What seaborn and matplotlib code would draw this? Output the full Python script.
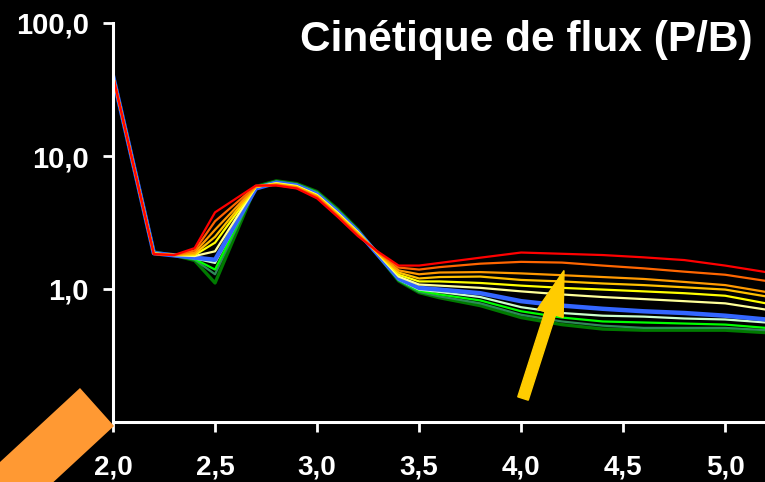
import matplotlib
matplotlib.use("Agg")
import matplotlib.pyplot as plt
from matplotlib.patches import Polygon, FancyArrow
from matplotlib.transforms import IdentityTransform
from matplotlib.ticker import FixedLocator, NullLocator
import seaborn as sns

# Time points (x) shared by every curve
x_values = [2.0, 2.2, 2.3, 2.4, 2.5, 2.7, 2.8, 2.9, 3.0, 3.1, 3.2, 3.3,
            3.4, 3.5, 3.6, 3.8, 4.0, 4.2, 4.4, 4.6, 4.8, 5.0, 5.2]

# P/B flux ratio for each curve
red = [40, 1.83, 1.80, 2.03, 3.77, 6.0, 6.0, 5.7, 4.8, 3.5, 2.5, 1.90,
       1.50, 1.50, 1.57, 1.72, 1.88, 1.84, 1.80, 1.73, 1.65, 1.50, 1.34]
dark_orange = [40, 1.83, 1.80, 1.95, 3.23, 5.95, 6.05, 5.75, 4.9, 3.55, 2.55, 1.88,
               1.45, 1.40, 1.46, 1.55, 1.60, 1.58, 1.50, 1.43, 1.35, 1.28, 1.15]
orange = [40, 1.84, 1.80, 1.88, 2.79, 5.9, 6.1, 5.8, 4.95, 3.6, 2.6, 1.86,
          1.38, 1.29, 1.33, 1.34, 1.31, 1.27, 1.23, 1.19, 1.13, 1.07, 0.95]
amber = [40, 1.84, 1.80, 1.83, 2.47, 5.9, 6.15, 5.85, 5.0, 3.65, 2.62, 1.85,
         1.33, 1.20, 1.23, 1.24, 1.17, 1.14, 1.10, 1.07, 1.03, 0.99, 0.88]
yellow = [40, 1.85, 1.80, 1.80, 2.23, 5.85, 6.2, 5.9, 5.05, 3.7, 2.65, 1.84,
          1.28, 1.14, 1.14, 1.11, 1.06, 1.02, 0.99, 0.96, 0.93, 0.89, 0.78]
pale_yellow = [40, 1.85, 1.80, 1.77, 1.92, 5.85, 6.25, 5.95, 5.1, 3.75, 2.68, 1.83,
               1.24, 1.08, 1.06, 1.02, 0.96, 0.91, 0.87, 0.84, 0.81, 0.78, 0.70]
blue = [40, 1.86, 1.79, 1.72, 1.66, 5.7, 6.3, 6.0, 5.15, 3.8, 2.7, 1.80,
        1.20, 1.02, 0.99, 0.93, 0.81, 0.75, 0.71, 0.68, 0.66, 0.63, 0.59]
pale_green = [40, 1.87, 1.79, 1.70, 1.57, 5.8, 6.35, 6.05, 5.2, 3.85, 2.72, 1.79,
              1.18, 0.99, 0.95, 0.87, 0.73, 0.66, 0.63, 0.62, 0.60, 0.59, 0.56]
green = [40, 1.88, 1.79, 1.68, 1.40, 5.85, 6.4, 6.1, 5.3, 3.9, 2.75, 1.78,
         1.17, 0.97, 0.91, 0.82, 0.68, 0.61, 0.57, 0.56, 0.55, 0.54, 0.51]
sea_green = [40, 1.89, 1.79, 1.66, 1.29, 5.85, 6.45, 6.15, 5.35, 3.95, 2.78, 1.78,
             1.16, 0.95, 0.88, 0.78, 0.64, 0.57, 0.53, 0.51, 0.51, 0.51, 0.49]
dark_green = [40, 1.90, 1.79, 1.64, 1.11, 5.9, 6.5, 6.2, 5.4, 4.0, 2.8, 1.78,
              1.15, 0.94, 0.86, 0.75, 0.61, 0.54, 0.50, 0.49, 0.49, 0.49, 0.47]

# Drawn from the bottom curve up so that the warm curves sit on top
curves = [
    (dark_green, "#007A00", 2.4),
    (sea_green, "#2E8B57", 1.6),
    (green, "#00FF00", 1.6),
    (pale_green, "#CCFFCC", 1.6),
    (blue, "#3366FF", 3.2),
    (pale_yellow, "#FFFF99", 1.6),
    (yellow, "#FFFF00", 1.6),
    (amber, "#FFC000", 1.6),
    (orange, "#FF9900", 1.6),
    (dark_orange, "#FF6600", 1.6),
    (red, "#FF0000", 1.6),
]

y_ticks = [1, 10, 100]
y_tick_labels = ["1,0", "10,0", "100,0"]
x_ticks = [2.0, 2.5, 3.0, 3.5, 4.0, 4.5, 5.0]
x_tick_labels = ["2,0", "2,5", "3,0", "3,5", "4,0", "4,5", "5,0"]

sns.set_theme(style="dark")
plt.rcParams["font.family"] = ["Liberation Sans", "DejaVu Sans"]
plt.rcParams["font.weight"] = "bold"

W, H = 765, 482
fig = plt.figure(figsize=(W / 100, H / 100), dpi=100, facecolor="black")
ax = fig.add_axes([113 / W, 60 / H, 653 / W, 399 / H])
ax.set_facecolor("black")

for values, color, lw in curves:
    sns.lineplot(x=x_values, y=values, color=color, linewidth=lw, ax=ax,
                 legend=False, estimator=None)

ax.set_yscale("log")
ax.set_xlim(2.0, 5.2)
ax.set_ylim(0.1, 100)
ax.grid(False)

ax.yaxis.set_major_locator(FixedLocator(y_ticks))
ax.yaxis.set_minor_locator(NullLocator())
ax.set_yticklabels(y_tick_labels)
ax.set_xticks(x_ticks)
ax.set_xticklabels(x_tick_labels)
ax.set_xlabel("")
ax.set_ylabel("")

for side in ["top", "right"]:
    ax.spines[side].set_visible(False)
for side in ["left", "bottom"]:
    ax.spines[side].set_color("white")
    ax.spines[side].set_linewidth(2.2)

ax.tick_params(axis="both", which="major", direction="out", length=7.5, width=2,
               color="white", labelcolor="white")
ax.tick_params(axis="y", pad=10, left=True, labelsize=21)
ax.tick_params(axis="x", pad=16, bottom=True, labelsize=20)
for lab in ax.get_xticklabels() + ax.get_yticklabels():
    lab.set_fontweight("bold")

fig.text(753 / W, 1 - 40 / H, "Cinétique de flux (P/B)", color="white",
         fontsize=30.5, fontweight="bold", ha="right", va="center")

# Yellow arrow pointing up through the tail of the curves
arrow = FancyArrow(523, H - 398.5, 41, 128, width=11, head_width=27,
                   head_length=45, length_includes_head=True,
                   color="#FFCC00", transform=IdentityTransform(), zorder=6)
fig.add_artist(arrow)

# Orange band in the lower-left corner
d = (-0.734, 0.679)
top = (80, 388)
right = (114, 426)
L = 160
band_img = [top, right,
            (right[0] + d[0] * L, right[1] + d[1] * L),
            (top[0] + d[0] * L, top[1] + d[1] * L)]
band = Polygon([(px, H - py) for px, py in band_img], closed=True,
               facecolor="#FF9933", edgecolor="none",
               transform=IdentityTransform(), zorder=6)
fig.add_artist(band)

fig.savefig("out.png", dpi=100, facecolor="black")
